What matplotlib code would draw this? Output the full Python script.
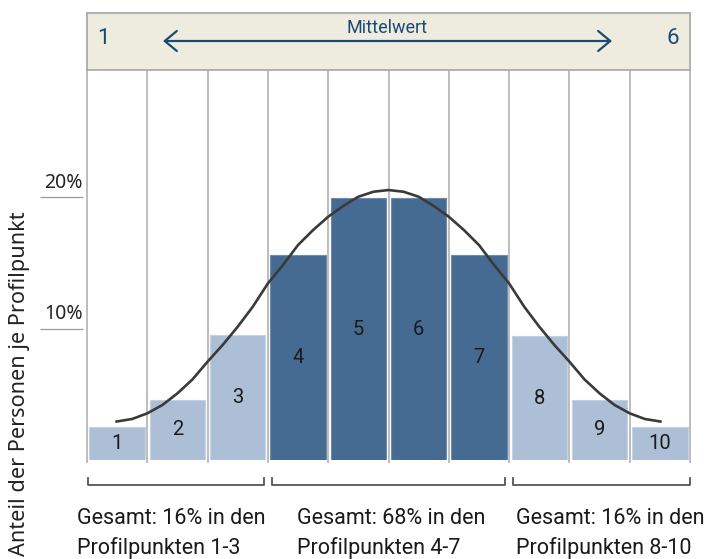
import matplotlib
matplotlib.use("Agg")
import matplotlib.pyplot as plt
from matplotlib.patches import FancyArrowPatch

# ---------------- data ----------------
categories = [1, 2, 3, 4, 5, 6, 7, 8, 9, 10]
shares = [2.5, 4.6, 9.5, 15.6, 19.9, 19.9, 15.6, 9.4, 4.6, 2.5]
highlight = [False, False, False, True, True, True, True, False, False, False]

curve_x = [0.97, 1.25, 1.5, 1.75, 2.0, 2.25, 2.5, 2.75, 3.0, 3.25, 3.5, 3.75,
           4.0, 4.25, 4.5, 4.75, 5.0, 5.25, 5.5, 5.75, 6.0, 6.25, 6.5, 6.75,
           7.0, 7.25, 7.5, 7.75, 8.0, 8.25, 8.5, 8.75, 9.0, 9.25, 9.5, 9.75, 10.03]
curve_y = [2.91, 3.12, 3.55, 4.18, 5.07, 6.13, 7.48, 8.75, 10.14, 11.66, 13.43,
           14.83, 16.35, 17.49, 18.5, 19.32, 20.02, 20.4, 20.53, 20.4, 20.02,
           19.32, 18.5, 17.49, 16.35, 14.83, 13.43, 11.66, 10.14, 8.75, 7.48,
           6.13, 5.07, 4.18, 3.55, 3.12, 2.91]

ytick_values = [10, 20]
ytick_labels = ["10%", "20%"]
ylabel = "Anteil der Personen je Profilpunkt"

groups = [(1, 3), (4, 7), (8, 10)]
group_lines1 = ["Gesamt: 16% in den", "Gesamt: 68% in den", "Gesamt: 16% in den"]
group_lines2 = ["Profilpunkten 1-3", "Profilpunkten 4-7", "Profilpunkten 8-10"]
group_text_x = [0.33, 3.99, 7.61]

header_left = "1"
header_right = "6"
header_title = "Mittelwert"

# ---------------- style ----------------
DARK = "#466b92"
LIGHT = "#adbfd6"
NAVY = "#1d4a72"
GRID = "#ababab"
BEIGE = "#eeebdf"
CURVE = "#3a3a3a"

W, H = 707, 559
fig = plt.figure(figsize=(W / 100, H / 100), dpi=100)

def px_box(x0, y0, x1, y1):
    return [x0 / W, 1 - y1 / H, (x1 - x0) / W, (y1 - y0) / H]

ax = fig.add_axes(px_box(87, 70, 690, 460))
ymax = (460 - 70) / 13.15
ax.set_xlim(0.5, 10.5)
ax.set_ylim(0, ymax)
ax.axis("off")

# column lines
bounds = [c - 0.5 for c in categories] + [categories[-1] + 0.5]
ax.vlines(bounds, -0.23, ymax, colors=GRID, linewidth=1.1, clip_on=False, zorder=1)

# bars
colors = [DARK if h else LIGHT for h in highlight]
edges = ["#6d8cad" if h else "#c5d2e3" for h in highlight]
ax.bar(categories, shares, width=0.92, color=colors, edgecolor=edges,
       linewidth=0.8, zorder=2)
for c, v in zip(categories, shares):
    ax.text(c, v / 2, str(c), ha="center", va="center", fontsize=14.5,
            family=["Roboto", "DejaVu Sans"], color="#1a1a1a", zorder=4)

# curve
ax.plot(curve_x, curve_y, color=CURVE, linewidth=1.9, zorder=3,
        solid_capstyle="butt", solid_joinstyle="round")

# y ticks
for v, lab in zip(ytick_values, ytick_labels):
    ax.hlines(v, -0.28, 0.43, colors="#9a9a9a", linewidth=0.9, clip_on=False)
    ax.annotate(lab, (0.43, v), xytext=(0, 6.5), textcoords="offset points",
                ha="right", va="baseline", fontsize=14,
                family=["Noto Sans", "DejaVu Sans"], color="#222222",
                annotation_clip=False)

# y label
fig.text(20 / W, 1 - 384 / H, ylabel, rotation=90, ha="center", va="center",
         fontsize=15.6, family=["Noto Sans", "DejaVu Sans"], color="#222222")

# brackets
yb = (460 - 485) / 13.15
yt = (460 - 478) / 13.15
for i, (g0, g1) in enumerate(groups):
    x0 = g0 - 0.5 + (0.02 if i == 0 else 0.07)
    x1 = g1 + 0.5 - (0.0 if i == len(groups) - 1 else 0.07)
    ax.plot([x0, x0, x1, x1], [yt, yb, yb, yt], color="#555555",
            linewidth=1.3, clip_on=False)

for x, l1, l2 in zip(group_text_x, group_lines1, group_lines2):
    ax.text(x, (460 - 518) / 13.15, l1, ha="left", va="center", fontsize=15.5,
            family=["Roboto", "DejaVu Sans"], color="#1a1a1a", clip_on=False)
    ax.text(x, (460 - 548) / 13.15, l2, ha="left", va="center", fontsize=15.5,
            family=["Roboto", "DejaVu Sans"], color="#1a1a1a", clip_on=False)

# header
hx = fig.add_axes(px_box(87, 12.5, 690, 70))
hx.set_facecolor(BEIGE)
hx.set_xlim(0, 1)
hx.set_ylim(0, 1)
hx.set_xticks([])
hx.set_yticks([])
for s in hx.spines.values():
    s.set_color(GRID)
    s.set_linewidth(1.3)

def hx_x(px):
    return (px - 87) / 603

def hx_y(py):
    return 1 - (py - 12.5) / 57.5

hx.text(hx_x(103), hx_y(38.5), header_left, ha="center", va="center",
        fontsize=16, family=["Roboto", "DejaVu Sans"], color=NAVY)
hx.text(hx_x(673), hx_y(38.5), header_right, ha="center", va="center",
        fontsize=16, family=["Roboto", "DejaVu Sans"], color=NAVY)
hx.text(hx_x(387), hx_y(28), header_title, ha="center", va="center",
        fontsize=13, family=["Roboto", "DejaVu Sans"], color=NAVY)
arr = FancyArrowPatch((hx_x(163), hx_y(41)), (hx_x(612), hx_y(41)),
                      arrowstyle="<->,head_length=0.87,head_width=0.72",
                      mutation_scale=10, color=NAVY, linewidth=1.6,
                      shrinkA=0, shrinkB=0, transform=hx.transAxes)
hx.add_patch(arr)

fig.savefig("out.png", dpi=100)
